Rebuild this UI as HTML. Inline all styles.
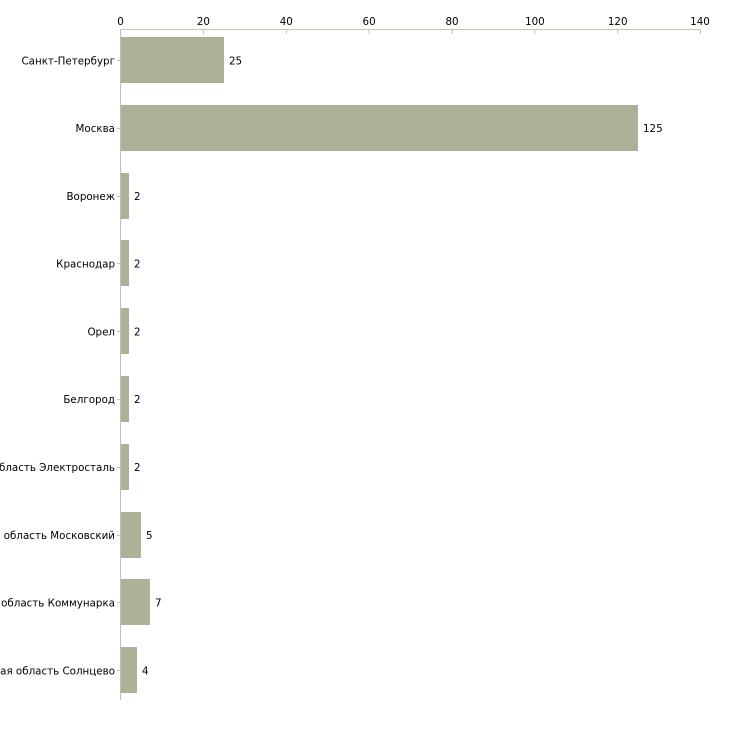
<!DOCTYPE html>
<html><head><meta charset="utf-8"><style>
html,body{margin:0;padding:0;background:#fff;width:730px;height:730px;overflow:hidden}
svg{display:block;font-family:"DejaVu Sans","Liberation Sans",sans-serif;font-size:10.3px;fill:#000}
</style></head><body>
<svg width="730" height="730" viewBox="0 0 730 730">
<g stroke="#c6c6b4" stroke-width="1">
<line x1="120" y1="29.5" x2="700" y2="29.5"/>
<line x1="120.5" y1="29.5" x2="120.5" y2="34"/>
<line x1="203.4" y1="29.5" x2="203.4" y2="34"/>
<line x1="286.3" y1="29.5" x2="286.3" y2="34"/>
<line x1="369.1" y1="29.5" x2="369.1" y2="34"/>
<line x1="452" y1="29.5" x2="452" y2="34"/>
<line x1="534.9" y1="29.5" x2="534.9" y2="34"/>
<line x1="617.7" y1="29.5" x2="617.7" y2="34"/>
<line x1="700.5" y1="29.5" x2="700.5" y2="34"/>
</g>
<g text-anchor="middle">
<text x="120.5" y="25">0</text><text x="203.4" y="25">20</text><text x="286.3" y="25">40</text><text x="369.1" y="25">60</text><text x="452" y="25">80</text><text x="534.9" y="25">100</text><text x="617.7" y="25">120</text><text x="700" y="25">140</text>
</g>
<g fill="#adb197">
<rect x="121" y="37" width="103" height="46"/>
<rect x="121" y="105" width="517" height="46"/>
<rect x="121" y="173" width="8" height="46"/>
<rect x="121" y="240" width="8" height="46"/>
<rect x="121" y="308" width="8" height="46"/>
<rect x="121" y="376" width="8" height="46"/>
<rect x="121" y="444" width="8" height="46"/>
<rect x="121" y="512" width="20" height="46"/>
<rect x="121" y="579" width="29" height="46"/>
<rect x="121" y="647" width="16" height="46"/>
</g>
<line x1="120.5" y1="30" x2="120.5" y2="700" stroke="#bdbdbd" stroke-width="1"/>
<g stroke="#c6c6a0" stroke-width="1">
<line x1="117" y1="60.5" x2="120" y2="60.5"/><line x1="117" y1="128.5" x2="120" y2="128.5"/><line x1="117" y1="196.5" x2="120" y2="196.5"/><line x1="117" y1="263.5" x2="120" y2="263.5"/><line x1="117" y1="331.5" x2="120" y2="331.5"/><line x1="117" y1="399.5" x2="120" y2="399.5"/><line x1="117" y1="467.5" x2="120" y2="467.5"/><line x1="117" y1="535.5" x2="120" y2="535.5"/><line x1="117" y1="602.5" x2="120" y2="602.5"/><line x1="117" y1="670.5" x2="120" y2="670.5"/>
</g>
<g text-anchor="end">
<text x="115" y="64.5">Санкт-Петербург</text>
<text x="115" y="132">Москва</text>
<text x="115" y="200">Воронеж</text>
<text x="115" y="267.5">Краснодар</text>
<text x="115" y="335.5">Орел</text>
<text x="115" y="403">Белгород</text>
<text x="115" y="471">Московская область Электросталь</text>
<text x="115" y="539">Московская область Московский</text>
<text x="115" y="606.5">Московская область Коммунарка</text>
<text x="115" y="674.5">Московская область Солнцево</text>
</g>
<g>
<text x="229" y="64.5">25</text>
<text x="643" y="132">125</text>
<text x="134" y="200">2</text>
<text x="134" y="267.5">2</text>
<text x="134" y="335.5">2</text>
<text x="134" y="403">2</text>
<text x="134" y="471">2</text>
<text x="146" y="539">5</text>
<text x="155" y="606.5">7</text>
<text x="142" y="674.5">4</text>
</g>
</svg>
</body></html>
